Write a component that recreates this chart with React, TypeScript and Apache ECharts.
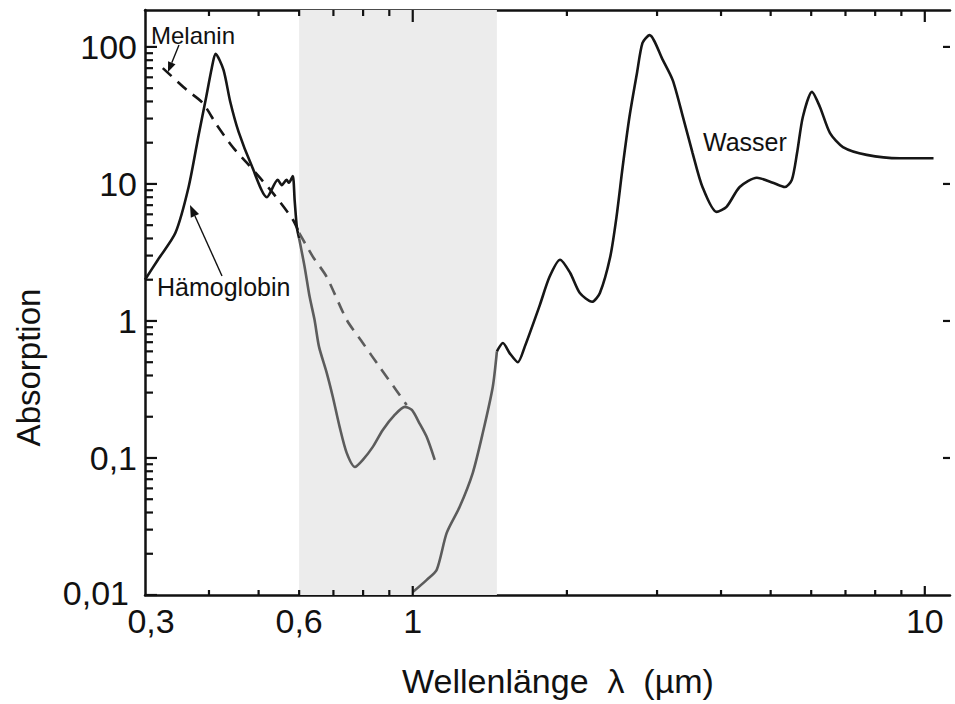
import React, { useEffect, useRef } from 'react';
import * as echarts from 'echarts';

// ---- data (wavelength in µm, absorption) ----
const hbX = [0.3, 0.318, 0.344, 0.365, 0.382, 0.394, 0.405, 0.412, 0.427, 0.44, 0.457, 0.485, 0.519, 0.545, 0.555, 0.567, 0.573, 0.583, 0.588, 0.594, 0.6, 0.615, 0.629, 0.643, 0.656, 0.679, 0.698, 0.72, 0.743, 0.771, 0.799, 0.835, 0.874, 0.922, 0.965, 0.996, 1.03, 1.065, 1.104];
const hbY = [2.0, 2.8, 4.4, 9.5, 23, 41, 70, 89, 68, 40, 24, 13.5, 8.0, 10.7, 9.8, 10.7, 10.2, 11.4, 7.6, 4.8, 4.0, 2.48, 1.5, 1.02, 0.65, 0.42, 0.28, 0.168, 0.109, 0.086, 0.097, 0.12, 0.16, 0.206, 0.236, 0.224, 0.18, 0.142, 0.097];

const melX = [0.325, 0.362, 0.389, 0.414, 0.445, 0.474, 0.533, 0.583, 0.6, 0.638, 0.679, 0.743, 0.799, 0.862, 0.93, 0.973];
const melY = [70, 48.5, 39, 27, 18.6, 14.3, 8.6, 5.5, 4.4, 2.95, 2.1, 1.02, 0.69, 0.46, 0.31, 0.244];

const waterX = [1.0, 1.065, 1.114, 1.165, 1.235, 1.31, 1.37, 1.433, 1.46, 1.5, 1.547, 1.604, 1.655, 1.77, 1.85, 1.94, 2.03, 2.12, 2.24, 2.32, 2.43, 2.5, 2.57, 2.65, 2.74, 2.81, 2.9, 3.08, 3.22, 3.37, 3.52, 3.68, 3.92, 4.1, 4.35, 4.7, 5.05, 5.33, 5.5, 5.63, 5.78, 6.02, 6.24, 6.53, 6.92, 7.7, 8.94, 10.4];
const waterY = [0.0105, 0.0129, 0.0153, 0.0284, 0.044, 0.078, 0.152, 0.33, 0.6, 0.69, 0.58, 0.5, 0.65, 1.3, 2.1, 2.8, 2.24, 1.6, 1.38, 1.6, 2.93, 5.75, 13.3, 30.9, 64, 107, 122, 80, 57, 30.9, 16.8, 9.5, 6.25, 6.8, 9.5, 11.1, 10.2, 9.5, 10.7, 16.8, 30.9, 47, 36.5, 23.5, 18.6, 16.3, 15.4, 15.4];

const windowRange = [0.6, 1.46];

const xLabelValues = [0.3, 0.6, 1, 10];
const xMajorTicks = [1, 10];
const xMinorTicks = [0.4, 0.5, 0.6, 0.7, 0.8, 0.9, 2, 3, 4, 5, 6, 7, 8, 9];
const yLabelValues = [0.01, 0.1, 1, 10, 100];
const yMinorTicks = [0.02, 0.03, 0.04, 0.05, 0.06, 0.07, 0.08, 0.09, 0.2, 0.3, 0.4, 0.5, 0.6, 0.7, 0.8, 0.9, 2, 3, 4, 5, 6, 7, 8, 9, 20, 30, 40, 50, 60, 70, 80, 90];
const yRightTicks = [0.1, 1, 10, 100];

const X_MIN = 0.3;
const X_MAX = 11.2;
const Y_MIN = 0.01;
const Y_MAX = 186;

const FONT = '"Liberation Sans", Arial, Helvetica, sans-serif';
const INK = '#111';
const DARK = '#161616';
const GRAY = '#5c5c5c';

const pairs = (xs: number[], ys: number[]) => xs.map((x, i) => [x, ys[i]]);
const within = (xs: number[], ys: number[], lo: number, hi: number) =>
  pairs(xs, ys).filter(([x]) => x >= lo && x <= hi);

const comma = (v: number) => String(v).replace('.', ',');

function arrow(x1: number, y1: number, x2: number, y2: number, head = 11, half = 4.2) {
  const dx = x2 - x1, dy = y2 - y1;
  const len = Math.sqrt(dx * dx + dy * dy);
  const ux = dx / len, uy = dy / len;
  const bx = x2 - ux * head, by = y2 - uy * head;
  const px = -uy, py = ux;
  return [
    { type: 'line', shape: { x1, y1, x2: bx, y2: by }, style: { stroke: INK, lineWidth: 1.4 } },
    {
      type: 'polygon',
      shape: { points: [[x2, y2], [bx + px * half, by + py * half], [bx - px * half, by - py * half]] },
      style: { fill: INK },
    },
  ];
}

type Side = 'left' | 'right' | 'top' | 'bottom';

// tick marks drawn through the axes' own log scales (api.coord)
function tickSeries(data: number[][], side: Side, len: number) {
  return {
    type: 'custom',
    silent: true,
    clip: false,
    z: 10,
    data,
    renderItem: (_params: any, api: any) => {
      const p = api.coord([api.value(0), api.value(1)]);
      let x2 = p[0];
      let y2 = p[1];
      if (side === 'left') x2 += len;
      if (side === 'right') x2 -= len;
      if (side === 'bottom') y2 -= len;
      if (side === 'top') y2 += len;
      return {
        type: 'line',
        shape: { x1: p[0], y1: p[1], x2, y2 },
        style: { stroke: INK, lineWidth: 2.2 },
      };
    },
  };
}

export default function App() {
  const ref = useRef<HTMLDivElement>(null);
  useEffect(() => {
    if (!ref.current) return;
    const chart = echarts.init(ref.current, undefined, { renderer: 'svg' });

    const axisLineStyle = () => ({ color: INK, width: 2.5 });

    const lineSeries = (name: string, data: number[][], color: string, dashed = false) => ({
      type: 'line',
      name,
      data,
      showSymbol: false,
      symbol: 'none',
      smooth: 0.25,
      silent: true,
      lineStyle: { color, width: 2.6, type: dashed ? [12, 8] : 'solid' },
      z: 3,
    });

    const option: any = {
      animation: false,
      backgroundColor: '#fff',
      grid: { left: 145, right: 5, top: 10, bottom: 109, containLabel: false, outerBoundsMode: 'none' },
      xAxis: [
        {
          type: 'log',
          min: X_MIN,
          max: X_MAX,
          position: 'bottom',
          splitLine: { show: false },
          axisLine: { show: true, lineStyle: axisLineStyle() },
          axisTick: { show: false },
          axisLabel: {
            show: true,
            customValues: xLabelValues,
            formatter: (v: number) => (v === 0.3 ? `{s|${comma(v)}}` : comma(v)),
            rich: { s: { padding: [0, 0, 0, 12], fontSize: 34, fontFamily: FONT, color: INK } },
            fontSize: 34,
            fontFamily: FONT,
            color: INK,
            margin: 9,
          },
          name: 'Wellenlänge  λ  (µm)',
          nameLocation: 'middle',
          nameGap: 69,
          nameTextStyle: { fontSize: 34, fontFamily: FONT, color: INK, padding: [0, 0, 0, 21] },
        },
        {
          type: 'log',
          min: X_MIN,
          max: X_MAX,
          position: 'top',
          splitLine: { show: false },
          axisLine: { show: true, lineStyle: axisLineStyle() },
          axisTick: { show: false },
          axisLabel: { show: false },
        },
      ],
      yAxis: [
        {
          type: 'log',
          min: Y_MIN,
          max: Y_MAX,
          position: 'left',
          splitLine: { show: false },
          axisLine: { show: true, lineStyle: axisLineStyle() },
          axisTick: { show: false },
          axisLabel: {
            show: true,
            customValues: yLabelValues,
            formatter: (v: number) => (v === 0.01 ? `{s|${comma(v)}}` : comma(v)),
            rich: { s: { padding: [0, 8, 4, 0], fontSize: 34, fontFamily: FONT, color: INK } },
            fontSize: 34,
            fontFamily: FONT,
            color: INK,
            margin: 8,
          },
          name: 'Absorption',
          nameLocation: 'middle',
          nameGap: 100,
          nameTextStyle: { fontSize: 33, fontFamily: FONT, color: INK, padding: [0, 130, 0, 0] },
        },
      ],
      series: [
        {
          ...lineSeries('Hämoglobin', within(hbX, hbY, 0, windowRange[0]), DARK),
          markArea: {
            silent: true,
            itemStyle: { color: '#ececec' },
            data: [[{ xAxis: windowRange[0] }, { xAxis: windowRange[1] }]],
          },
        },
        lineSeries('Hämoglobin', within(hbX, hbY, windowRange[0], 100), GRAY),
        lineSeries('Melanin', within(melX, melY, 0, windowRange[0]), DARK, true),
        lineSeries('Melanin', within(melX, melY, windowRange[0], 100), GRAY, true),
        lineSeries('Wasser', within(waterX, waterY, 0, windowRange[1]), GRAY),
        lineSeries('Wasser', within(waterX, waterY, windowRange[1], 100), DARK),
        tickSeries(yLabelValues.map((v) => [X_MIN, v]), 'left', 12),
        tickSeries(yMinorTicks.map((v) => [X_MIN, v]), 'left', 8),
        tickSeries(yRightTicks.map((v) => [X_MAX, v]), 'right', 7),
        tickSeries(xMajorTicks.map((v) => [v, Y_MIN]), 'bottom', 9),
        tickSeries(xMinorTicks.map((v) => [v, Y_MIN]), 'bottom', 5),
        tickSeries(xMajorTicks.map((v) => [v, Y_MAX]), 'top', 12),
        tickSeries(xMinorTicks.map((v) => [v, Y_MAX]), 'top', 6),
      ],
      graphic: [
        { type: 'text', x: 151, y: 35, style: { text: 'Melanin', font: `24px ${FONT}`, fill: INK, textAlign: 'left', textVerticalAlign: 'middle' } },
        { type: 'text', x: 157, y: 287, style: { text: 'Hämoglobin', font: `25px ${FONT}`, fill: INK, textAlign: 'left', textVerticalAlign: 'middle' } },
        { type: 'text', x: 703, y: 142, style: { text: 'Wasser', font: `25px ${FONT}`, fill: INK, textAlign: 'left', textVerticalAlign: 'middle' } },
        { type: 'text', x: 400, y: 68, style: { text: 'optisches', font: `bold 26px ${FONT}`, fill: INK, textAlign: 'center', textVerticalAlign: 'middle' } },
        { type: 'text', x: 400, y: 98, style: { text: 'Fenster', font: `bold 26px ${FONT}`, fill: INK, textAlign: 'center', textVerticalAlign: 'middle' } },
        ...arrow(179, 45, 168, 72, 10, 4),
        ...arrow(222, 276, 190, 205, 12, 4.5),
      ],
    };

    chart.setOption(option);
    return () => chart.dispose();
  }, []);

  return <div ref={ref} style={{ width: 955, height: 704, position: 'absolute', left: 0, top: 0 }} />;
}
